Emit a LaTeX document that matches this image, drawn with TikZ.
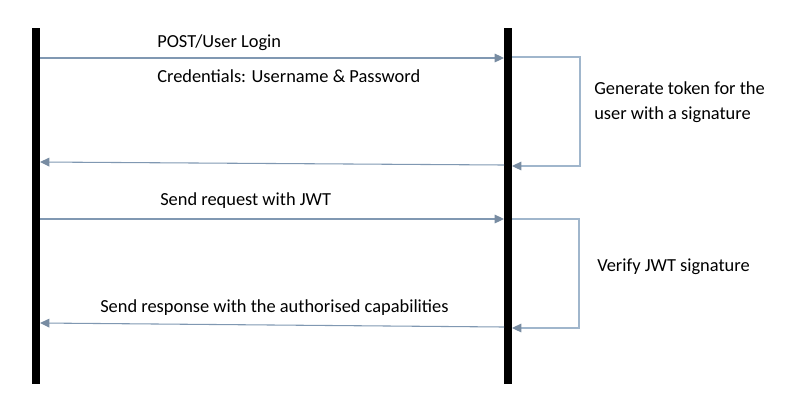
\documentclass[tikz,border=0pt]{standalone}
\usepackage{fontspec}
\setmainfont{Carlito}
\usetikzlibrary{arrows.meta}
\definecolor{msgline}{RGB}{128,152,178}
\definecolor{loopline}{RGB}{160,182,204}
\definecolor{tipcol}{RGB}{120,140,162}
\tikzset{
  lifeline/.style={line width=6pt,black},
  msg/.style={draw=msgline,line width=0.8pt,-{Triangle[length=7pt,width=6.5pt,fill=tipcol,color=tipcol]}},
  loopmsg/.style={draw=loopline,line width=0.8pt,-{Triangle[length=7pt,width=6.5pt,fill=tipcol,color=tipcol]}},
  lbl/.style={font=\fontsize{13.8pt}{16pt}\selectfont,inner sep=0pt,text=black},
}
\begin{document}
\begin{tikzpicture}[x=0.75pt,y=-0.75pt]
\useasboundingbox (0,0) rectangle (787,408);
% lifelines
\coordinate (ltop) at (36,28);
\coordinate (lbot) at (36,384);
\coordinate (rtop) at (508,28);
\coordinate (rbot) at (508,384);
\draw[lifeline] (ltop) -- (lbot);
\draw[lifeline] (rtop) -- (rbot);
% anchor coordinates
\coordinate (a1s) at (40,58);
\coordinate (a1e) at (504,58);
\coordinate (b1s) at (512,57);
\coordinate (b1c1) at (580,57);
\coordinate (b1c2) at (580,166);
\coordinate (b1e) at (512,166);
\coordinate (c1s) at (504,165);
\coordinate (c1e) at (40,162);
\coordinate (a2s) at (40,219);
\coordinate (a2e) at (504,219);
\coordinate (b2s) at (512,219);
\coordinate (b2c1) at (579,219);
\coordinate (b2c2) at (579,328);
\coordinate (b2e) at (512,328);
\coordinate (c2s) at (504,327);
\coordinate (c2e) at (40,323);
% messages
\draw[msg] (a1s) -- (a1e);
\draw[loopmsg] (b1s) -- (b1c1) -- (b1c2) -- (b1e);
\draw[msg] (c1s) -- (c1e);
\draw[msg] (a2s) -- (a2e);
\draw[loopmsg] (b2s) -- (b2c1) -- (b2c2) -- (b2e);
\draw[msg] (c2s) -- (c2e);
% labels
\node[lbl,anchor=base west] (t1) at (157,47) {POST/User Login};
\node[lbl,anchor=base west] (t2) at (157,82) {Credentials: Username \& Password};
\node[lbl,anchor=base west] (t3) at (594,94) {Generate token for the};
\node[lbl,anchor=base west] (t4) at (594,119) {user with a signature};
\node[lbl,anchor=base west] (t5) at (160,205) {Send request with JWT};
\node[lbl,anchor=base west] (t6) at (597,271) {Verify JWT signature};
\node[lbl,anchor=base west] (t7) at (100,312) {Send response with the authorised capabilities};
\end{tikzpicture}
\end{document}
